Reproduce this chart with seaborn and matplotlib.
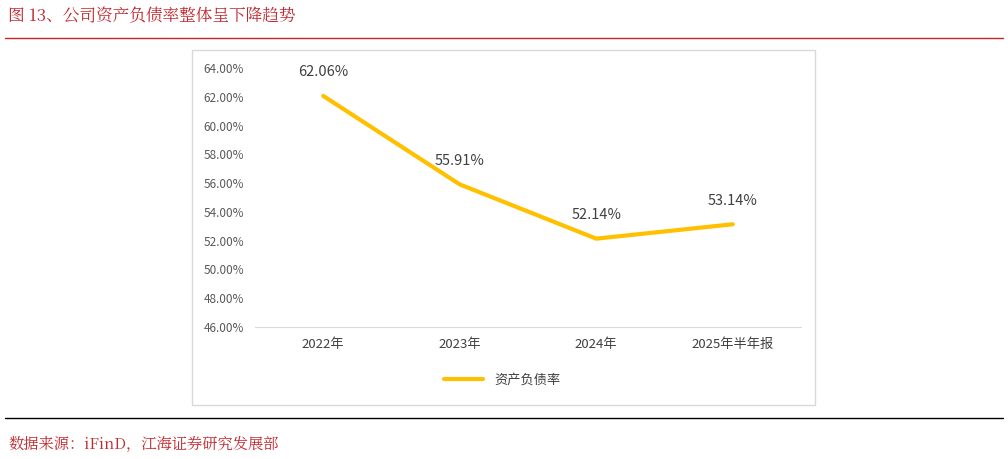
import matplotlib.pyplot as plt
import seaborn as sns
import pandas as pd
from matplotlib.patches import Rectangle
from matplotlib.lines import Line2D

categories = ['2022年', '2023年', '2024年', '2025年半年报']
ratio = [62.06, 55.91, 52.14, 53.14]
yticks = [46, 48, 50, 52, 54, 56, 58, 60, 62, 64]

sns.set_style('white')
plt.rcParams['font.family'] = ['Noto Sans CJK SC', 'DejaVu Sans']

df = pd.DataFrame({'x': range(len(categories)), 'y': ratio})

fig = plt.figure(figsize=(10.08, 4.59), dpi=100)
W, H = 1008, 459

def fx(px): return px / W
def fy(py): return 1 - py / H

# title and rules
red = '#c0272d'
serif = ['Noto Serif CJK SC', 'Noto Sans CJK SC', 'DejaVu Sans']
fig.text(fx(8), fy(16), '图 13、公司资产负债率整体呈下降趋势', color=red, fontsize=12,
         va='center', family=serif)
fig.add_artist(Line2D([fx(5), fx(1003)], [fy(38), fy(38)], color=red, lw=1))
fig.add_artist(Line2D([fx(5), fx(1003)], [fy(418), fy(418)], color='black', lw=1))
fig.text(fx(8), fy(445), '数据来源：iFinD，江海证券研究发展部', color=red, fontsize=11,
         va='center', family=serif)

# chart frame
fig.add_artist(Rectangle((fx(192), fy(405)), fx(815) - fx(192), fy(50) - fy(405),
                         fill=False, edgecolor='#d9d9d9', lw=1, transform=fig.transFigure))

ax = fig.add_axes([fx(255), fy(327), fx(801) - fx(255), fy(68) - fy(327)])
sns.lineplot(data=df, x='x', y='y', ax=ax, color='#FFC000', lw=3, label='资产负债率', legend=False)
for i, v in enumerate(ratio):
    ax.annotate(f'{v:.2f}%', (i, v), xytext=(0, 12), textcoords='offset points',
                ha='center', va='bottom', fontsize=10.5, color='#404040')
ax.set_xlim(-0.5, 3.5)
ax.set_ylim(46, 64)
ax.set_yticks(yticks)
ax.set_yticklabels([f'{t:.2f}%' for t in yticks], fontsize=8.5, color='#595959')
ax.set_xticks(range(len(categories)))
ax.set_xticklabels(categories, fontsize=9.5, color='#404040')
ax.tick_params(axis='both', length=0, pad=8)
ax.set_xlabel('')
ax.set_ylabel('')
for s in ['top', 'right', 'left']:
    ax.spines[s].set_visible(False)
ax.spines['bottom'].set_color('#d9d9d9')
ax.patch.set_alpha(0)

handles, labels = ax.get_legend_handles_labels()
fig.legend(handles, labels, loc='center', bbox_to_anchor=(fx(502), fy(380)), frameon=False,
           fontsize=9.5, labelcolor='#404040', handlelength=3)

fig.savefig('out.png', dpi=100)
